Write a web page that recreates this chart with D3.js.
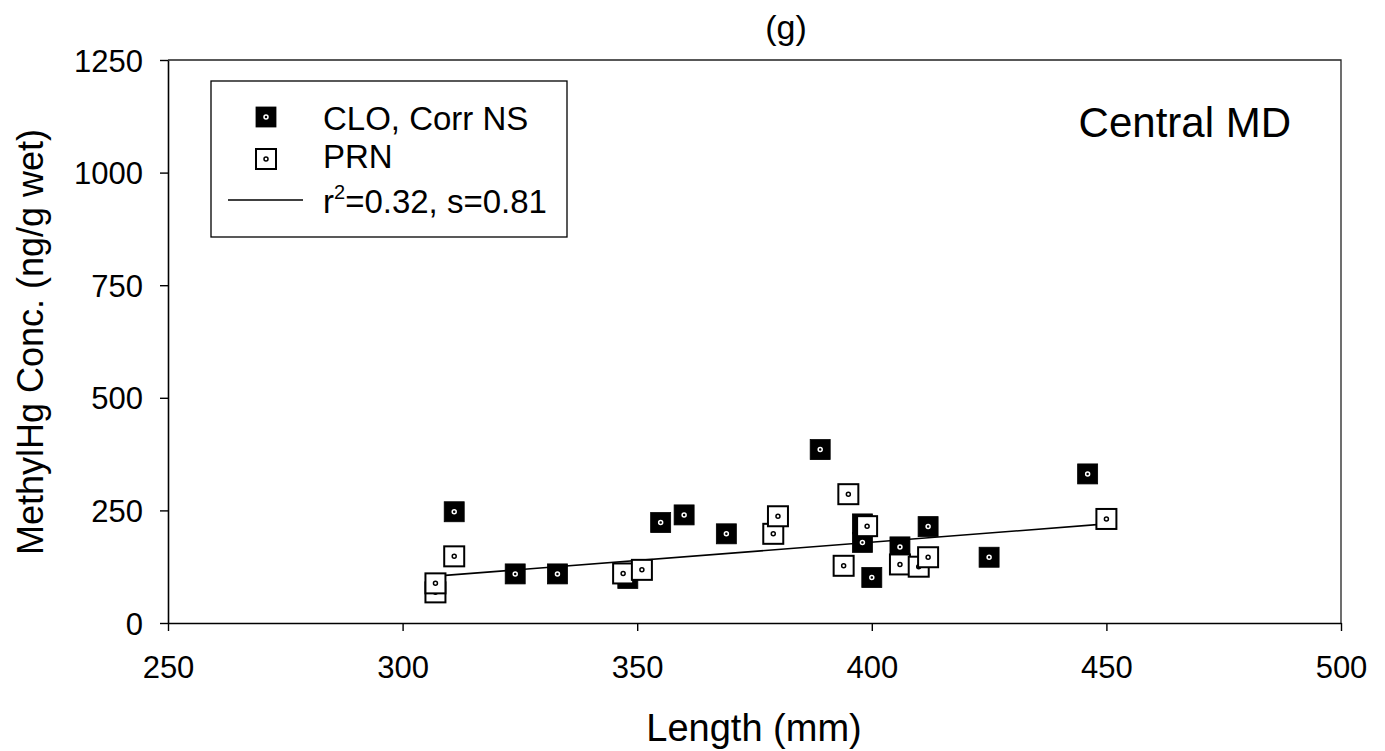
<!DOCTYPE html>
<html>
<head>
<meta charset="utf-8">
<script src="https://cdn.jsdelivr.net/npm/d3@7"></script>
<style>
  html, body { margin: 0; padding: 0; background: #fff; }
  svg { display: block; font-family: "Liberation Sans", Arial, sans-serif; }
</style>
</head>
<body>
<svg id="chart" width="1385" height="751"></svg>
<script>
// Fish length (mm) vs methylmercury concentration (ng/g wet), Central MD
const cloLength = [311, 324, 333, 348, 355, 360, 369, 389, 398, 398, 400, 406, 412, 425, 446];
const cloConc   = [247, 109, 109,  99, 223, 240, 198, 385, 220, 179, 101, 169, 214, 146, 331];

const prnLength = [307, 307, 311, 347, 351, 379, 380, 394, 395, 399, 406, 410, 412, 450];
const prnConc   = [ 68,  88, 148, 110, 118, 198, 237, 127, 286, 215, 130, 125, 146, 231];

// Regression line endpoints (length, conc)
const fitLength = [307, 450];
const fitConc   = [104, 220];

const xTicks = [250, 300, 350, 400, 450, 500];
const yTicks = [0, 250, 500, 750, 1000, 1250];

const legendLabels = ["CLO, Corr NS", "PRN", "=0.32, s=0.81"];

const svg = d3.select("#chart");
const plotL = 168, plotR = 1341, plotT = 60, plotB = 623;

const x = d3.scaleLinear().domain([250, 500]).range([plotL, plotR]);
const y = d3.scaleLinear().domain([0, 1250]).range([plotB, plotT]);

// frame (top and right edges)
svg.append("path")
  .attr("d", `M${plotL},${plotT}H${plotR}V${plotB}`)
  .attr("fill", "none").attr("stroke", "#222").attr("stroke-width", 1.3);

// axes
const xAxis = svg.append("g").attr("transform", `translate(0,${plotB})`)
  .call(d3.axisBottom(x).tickValues(xTicks).tickFormat(d3.format("d"))
    .tickSizeOuter(0).tickSizeInner(8).tickPadding(25));
const yAxis = svg.append("g").attr("transform", `translate(${plotL},0)`)
  .call(d3.axisLeft(y).tickValues(yTicks).tickFormat(d3.format("d"))
    .tickSizeOuter(0).tickSizeInner(8).tickPadding(17));
[xAxis, yAxis].forEach(g => {
  g.attr("font-family", null).attr("font-size", null);
  g.select(".domain").attr("stroke", "#000").attr("stroke-width", 1.6);
  g.selectAll(".tick line").attr("stroke", "#000").attr("stroke-width", 1.4);
  g.selectAll(".tick text").attr("fill", "#000");
});
xAxis.selectAll(".tick text").attr("font-size", 31);
yAxis.selectAll(".tick text").attr("font-size", 31).attr("dy", "0.36em");

// axis titles and panel label
svg.append("text").attr("x", 786).attr("y", 39).attr("text-anchor", "middle")
  .attr("font-size", 34).text("(g)");
svg.append("text").attr("x", 754).attr("y", 741).attr("text-anchor", "middle")
  .attr("font-size", 38).text("Length (mm)");
svg.append("text").attr("transform", "translate(43,342) rotate(-90)").attr("text-anchor", "middle")
  .attr("font-size", 36).text("MethylHg Conc. (ng/g wet)");
svg.append("text").attr("x", 1291).attr("y", 137).attr("text-anchor", "end")
  .attr("font-size", 42).text("Central MD");

// regression line
svg.append("line")
  .attr("x1", x(fitLength[0])).attr("y1", y(fitConc[0]))
  .attr("x2", x(fitLength[1])).attr("y2", y(fitConc[1]))
  .attr("stroke", "#000").attr("stroke-width", 1.6);

const S = 20;
function marker(g, cx, cy, filled) {
  g.append("rect")
    .attr("x", cx - S / 2).attr("y", cy - S / 2).attr("width", S).attr("height", S)
    .attr("fill", filled ? "#000" : "#fff")
    .attr("stroke", "#000").attr("stroke-width", filled ? 0.8 : 2);
  g.append("circle").attr("cx", cx).attr("cy", cy).attr("r", 2)
    .attr("fill", filled ? "#000" : "#fff")
    .attr("stroke", filled ? "#fff" : "#000").attr("stroke-width", 1.5);
}

const pts = svg.append("g");
cloLength.forEach((d, i) => marker(pts, x(d), y(cloConc[i]), true));
prnLength.forEach((d, i) => marker(pts, x(d), y(prnConc[i]), false));

// legend
const lg = svg.append("g");
lg.append("rect").attr("x", 211).attr("y", 81).attr("width", 356).attr("height", 156)
  .attr("fill", "#fff").attr("stroke", "#000").attr("stroke-width", 1.3);
marker(lg, 266, 117, true);
marker(lg, 266, 159, false);
lg.append("line").attr("x1", 228).attr("x2", 303).attr("y1", 200).attr("y2", 200)
  .attr("stroke", "#000").attr("stroke-width", 1.4);
lg.append("text").attr("x", 323).attr("y", 130).attr("font-size", 33).text(legendLabels[0]);
lg.append("text").attr("x", 323).attr("y", 168).attr("font-size", 33).text(legendLabels[1]);
const t3 = lg.append("text").attr("x", 323).attr("y", 213).attr("font-size", 33);
t3.append("tspan").text("r");
t3.append("tspan").attr("font-size", 20).attr("dy", -14).text("2");
t3.append("tspan").attr("dy", 14).text(legendLabels[2]);
</script>
</body>
</html>
